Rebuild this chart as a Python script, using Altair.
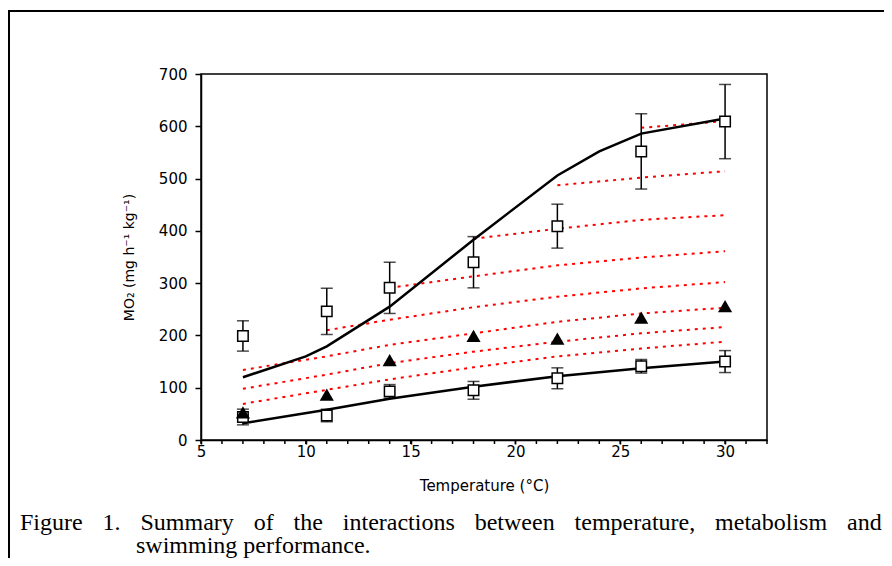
import altair as alt
import pandas as pd

# ---- data ----
temps = [7, 11, 14, 18, 22, 26, 30]
max_mo2 = [199, 246, 291, 340, 409, 552, 609]
max_err = [29, 44, 49, 49, 42, 72, 71]
smr_mo2 = [44, 47, 93, 95, 118, 141, 150]
smr_err = [15, 12, 13, 17, 20, 13, 21]
tri_mo2 = [53, 87, 153, 199, 194, 234, 256]

upper_T = [7, 10, 11, 14, 18, 22, 24, 26, 30]
upper_v = [120, 160, 179, 255, 383, 506, 552, 586, 615]
lower_T = [7, 11, 14, 18, 22, 26, 30]
lower_v = [32, 58, 79, 102, 122, 137, 150]

red1_T = [26, 30]
red1_v = [597, 610]
red2_T = [22, 26, 30]
red2_v = [487, 502, 514]
red3_T = [18, 22, 26, 30]
red3_v = [385, 404, 421, 430]
red4_T = [14, 18, 22, 26, 30]
red4_v = [291, 313, 334, 349, 361]
red5_T = [11, 14, 18, 22, 26, 30]
red5_v = [210, 230, 254, 274, 290, 302]
red6_T = [7, 11, 14, 18, 22, 26, 30]
red6_v = [134, 160, 182, 204, 226, 242, 253]
red7_T = [7, 11, 14, 18, 22, 26, 30]
red7_v = [98, 125, 147, 169, 188, 204, 216]
red8_T = [7, 11, 14, 18, 22, 26, 30]
red8_v = [69, 96, 116, 139, 160, 175, 188]

x_labels = [5, 10, 15, 20, 25, 30]
x_minor = list(range(5, 33))
y_labels = [0, 100, 200, 300, 400, 500, 600, 700]

caption1_words = ["Figure", "1.", "Summary", "of", "the", "interactions",
                  "between", "temperature,", "metabolism", "and"]
caption2 = "swimming performance."

x_title = "Temperature (°C)"
y_title = "MO₂ (mg h⁻¹ kg⁻¹)"

# ---- tables ----
pts = pd.DataFrame({
    "T": temps * 2,
    "v": max_mo2 + smr_mo2,
    "lo": [m - e for m, e in zip(max_mo2, max_err)] + [m - e for m, e in zip(smr_mo2, smr_err)],
    "hi": [m + e for m, e in zip(max_mo2, max_err)] + [m + e for m, e in zip(smr_mo2, smr_err)],
})
tri = pd.DataFrame({"T": temps, "v": tri_mo2})
black = pd.DataFrame({
    "T": upper_T + lower_T,
    "v": upper_v + lower_v,
    "s": ["up"] * len(upper_T) + ["low"] * len(lower_T),
})
reds = []
for i, (ts, vs) in enumerate([(red1_T, red1_v), (red2_T, red2_v), (red3_T, red3_v),
                               (red4_T, red4_v), (red5_T, red5_v), (red6_T, red6_v),
                               (red7_T, red7_v), (red8_T, red8_v)]):
    for t, v in zip(ts, vs):
        reds.append({"T": t, "v": v, "s": i})
reds = pd.DataFrame(reds)

xs = alt.Scale(domain=[5, 32], nice=False, zero=False)
ys = alt.Scale(domain=[0, 700], nice=False)

FONT = "DejaVu Sans"
xaxis = alt.Axis(values=x_labels, labelOverlap=False, labelFlush=False,
                 title=x_title, grid=False, tickSize=4, labelFontSize=15, titleFontSize=15,
                 labelFont=FONT, titleFont=FONT, labelPadding=0, titlePadding=19,
                 titleFontWeight="normal", labelColor="black", titleColor="black",
                 domainColor="black", tickColor="black", domainWidth=1.5, tickWidth=1.5)
yaxis = alt.Axis(values=y_labels, title=y_title, grid=False, tickSize=6,
                 labelOverlap=False, labelFontSize=15, titleFontSize=14, labelFont=FONT,
                 titleFont=FONT, labelPadding=8, titlePadding=22, titleFontWeight="normal",
                 labelColor="black", titleColor="black", domainColor="black",
                 tickColor="black", domainWidth=1.5, tickWidth=1.5)

X = alt.X("T:Q", scale=xs, axis=xaxis)
Y = alt.Y("v:Q", scale=ys, axis=yaxis)

red_layer = alt.Chart(reds).mark_line(color="#ff0000", strokeWidth=2, strokeDash=[3, 5]).encode(
    x=X, y=Y, detail="s:N")
black_layer = alt.Chart(black).mark_line(color="black", strokeWidth=2.5).encode(
    x="T:Q", y="v:Q", detail="s:N")
err_layer = alt.Chart(pts).mark_rule(color="black", strokeWidth=1.5).encode(
    x="T:Q", y="lo:Q", y2="hi:Q")
cap_lo = alt.Chart(pts).mark_tick(color="black", thickness=1.5, size=12, orient="horizontal").encode(
    x="T:Q", y="lo:Q")
cap_hi = alt.Chart(pts).mark_tick(color="black", thickness=1.5, size=12, orient="horizontal").encode(
    x="T:Q", y="hi:Q")
sq_layer = alt.Chart(pts).mark_point(shape="square", filled=True, fill="white", stroke="black",
                                     strokeWidth=1.5, size=110, opacity=1).encode(x="T:Q", y="v:Q")
tri_layer = alt.Chart(tri).mark_point(shape="triangle-up", filled=True, color="black",
                                      size=200, opacity=1).encode(x="T:Q", y="v:Q")

# minor x ticks every degree
minor_layer = alt.Chart(pd.DataFrame({"T": x_minor})).mark_rule(
    color="black", strokeWidth=1.5).encode(x="T:Q", y=alt.value(366), y2=alt.value(370))

# outer frame (pixel positions relative to plot area)
frame_df = pd.DataFrame({"a": [0]})
frame_top = alt.Chart(frame_df).mark_rule(color="black", strokeWidth=2).encode(
    x=alt.value(-193), x2=alt.value(700), y=alt.value(-63))
frame_left = alt.Chart(frame_df).mark_rule(color="black", strokeWidth=2).encode(
    x=alt.value(-192), y=alt.value(-64), y2=alt.value(500))

# caption, justified word by word
word_x = [20, 102.6, 140.5, 253.7, 293.6, 342.8, 474.7, 574.6, 715.1, 847.0]
cap_df = pd.DataFrame({"w": caption1_words, "px": [p - 201 for p in word_x]})
cap1 = alt.Chart(cap_df).mark_text(font="Liberation Serif", fontSize=24, align="left",
                                   baseline="alphabetic", color="black").encode(
    x=alt.X("px:Q", scale=None), y=alt.value(456), text="w:N")
cap2 = alt.Chart(pd.DataFrame({"w": [caption2]})).mark_text(
    font="Liberation Serif", fontSize=24, align="left", baseline="alphabetic", color="black").encode(
    x=alt.value(136 - 201), y=alt.value(479), text="w:N")

chart = alt.layer(red_layer, black_layer, err_layer, cap_lo, cap_hi, sq_layer, tri_layer,
                  minor_layer, frame_top, frame_left, cap1, cap2).properties(
    width=566, height=366,
    autosize=alt.AutoSizeParams(type="none"),
    padding={"left": 193, "top": 66, "right": 117, "bottom": 118},
    background="white",
).configure_view(stroke="black", strokeWidth=1.5)

chart.save("out.html", embed_options={"renderer": "svg", "actions": False})
